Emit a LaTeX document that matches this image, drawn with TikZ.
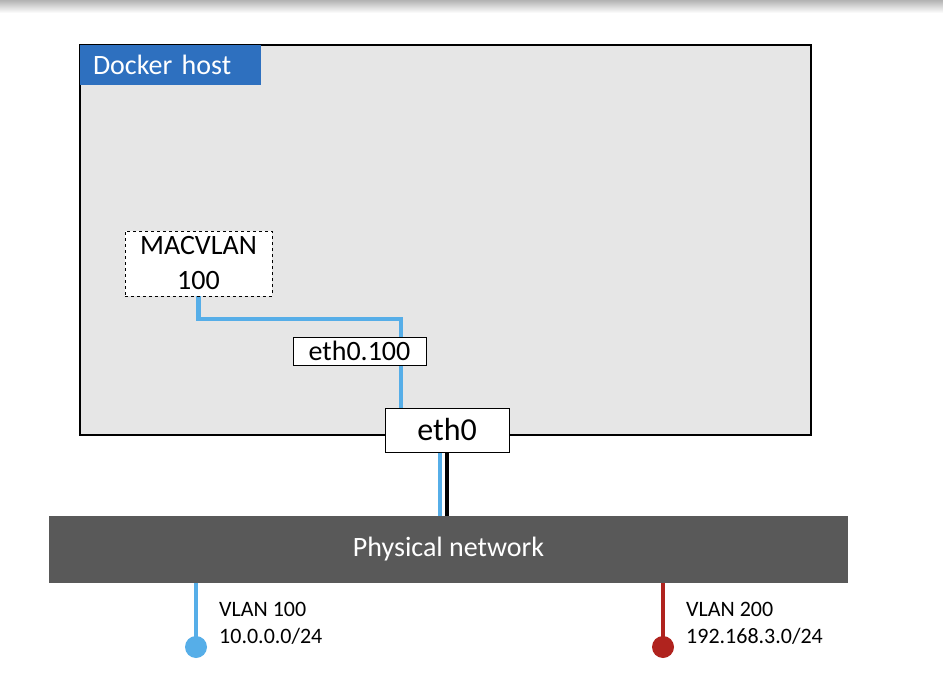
\documentclass[tikz,border=0pt]{standalone}
\usepackage{fontspec}
\setmainfont{Carlito}
\pgfdeclarelayer{bg}
\pgfdeclarelayer{wires}
\pgfsetlayers{bg,wires,main}
\definecolor{hostfill}{RGB}{230,230,230}
\definecolor{labelblue}{RGB}{46,112,191}
\definecolor{wireblue}{RGB}{86,174,232}
\definecolor{wirered}{RGB}{176,35,30}
\definecolor{netgray}{RGB}{89,89,89}
\begin{document}
\begin{tikzpicture}[x=1pt,y=-1pt,
  hostbox/.style={draw=black, line width=1.3pt, fill=hostfill, inner sep=0pt, outer sep=0pt},
  hostlabel/.style={fill=labelblue, text=white, inner xsep=13pt, inner ysep=0pt, outer sep=0pt,
     text width=155pt, align=left, minimum height=40pt, font=\fontsize{28}{32}\selectfont},
  ifbox/.style={draw=black, line width=1pt, fill=white, inner sep=0pt, outer sep=0pt, align=center,
     font=\fontsize{28}{35}\selectfont},
  dashbox/.style={ifbox, dashed},
  netbar/.style={fill=netgray, text=white, inner sep=0pt, outer sep=0pt, font=\fontsize{28}{32}\selectfont},
  dot/.style={circle, inner sep=0pt, outer sep=0pt, minimum size=22pt},
  vlantext/.style={inner sep=0pt, align=left, anchor=north west, font=\fontsize{22}{27}\selectfont},
  bluewire/.style={draw=wireblue, line width=4.5pt},
  redwire/.style={draw=wirered, line width=4.5pt},
  blackwire/.style={draw=black, line width=4pt}
]
\useasboundingbox (0,0) rectangle (943,690);

\begin{pgfonlayer}{bg}
\fill[white] (0,0) rectangle (943,690);
\shade[top color=black!30, bottom color=white] (0,0) rectangle (943,13);
\node[hostbox, minimum width=731pt, minimum height=390pt, anchor=north west] (host) at (80,45) {};
\node[hostlabel, anchor=north west] (hostlabel) at (80,45) {Docker host};
\end{pgfonlayer}

\node[dashbox, minimum width=147pt, minimum height=65pt, anchor=north west] (mac) at (125,231) {MACVLAN\\100};
\node[ifbox, minimum width=133pt, minimum height=28pt, anchor=north west] (eth100) at (293,337) {eth0.100};
\node[ifbox, minimum width=124pt, minimum height=44pt, anchor=north west, font=\fontsize{32}{36}\selectfont] (eth0) at (385,408) {eth0};
\node[netbar, minimum width=799pt, minimum height=67pt, anchor=north west] (phys) at (49,516) {Physical network};

\node[dot, fill=wireblue] (dot1) at (196,647) {};
\node[dot, fill=wirered] (dot2) at (663,647) {};
\node[vlantext] (lab1) at (219,602) {VLAN 100\\10.0.0.0/24};
\node[vlantext] (lab2) at (686,602) {VLAN 200\\192.168.3.0/24};

\coordinate (bend) at (401,319);
\begin{pgfonlayer}{wires}
\draw[bluewire] (mac.south) |- (bend) -- (bend |- eth0.north);
\draw[bluewire] ([xshift=-7pt]eth0.south) -- ([xshift=-7pt]eth0.south |- phys.north);
\draw[blackwire] (eth0.south) -- (eth0.south |- phys.north);
\draw[bluewire] (dot1 |- phys.south) -- (dot1.center);
\draw[redwire] (dot2 |- phys.south) -- (dot2.center);
\end{pgfonlayer}
\end{tikzpicture}
\end{document}
